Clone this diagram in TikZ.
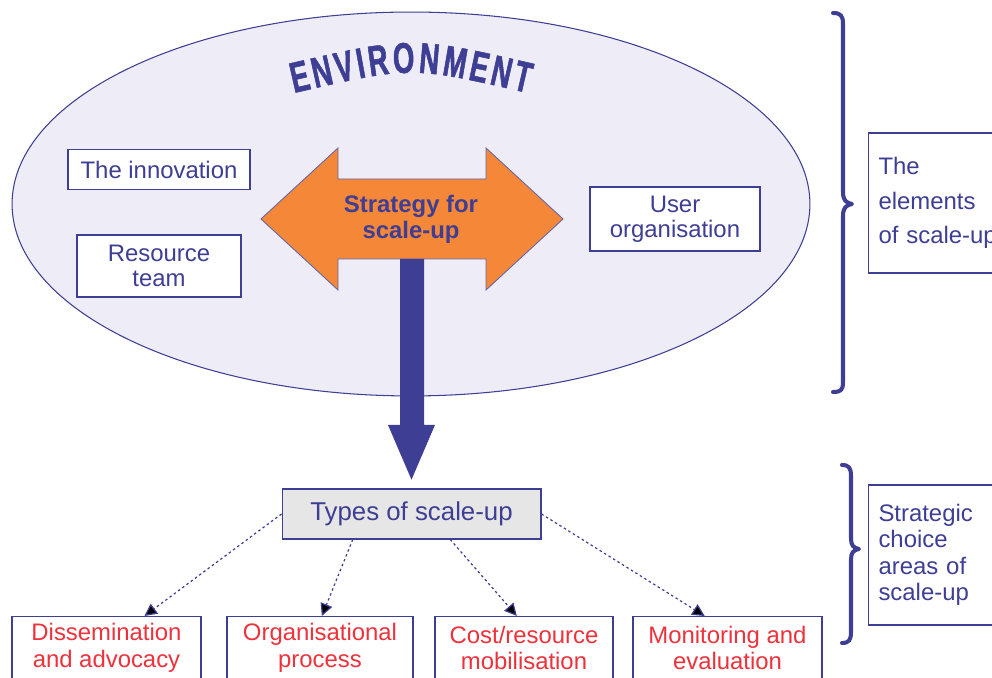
\documentclass[tikz,border=0pt]{standalone}
\usepackage{fontspec}
\setmainfont{Liberation Sans}
\newfontfamily\envfont[FakeStretch=0.64,FakeBold=1.2]{Liberation Sans Bold}
\usetikzlibrary{arrows.meta,calc,decorations.text}

\definecolor{dblue}{RGB}{62,62,148}
\definecolor{lav}{RGB}{237,236,247}
\definecolor{sorange}{RGB}{244,135,56}
\definecolor{dred}{RGB}{237,50,60}
\definecolor{lgray}{RGB}{230,230,230}

\newcommand\lblfont{\fontsize{13.6}{14.2}\selectfont}
\newcommand\redfont{\fontsize{13.6}{15.3}\selectfont}

\begin{document}
\begin{tikzpicture}[x=0.02cm,y=-0.02cm,
  box/.style={draw=dblue, line width=0.6pt, fill=white, inner sep=0pt,
    align=center, text=dblue, font=\lblfont},
  redbox/.style={box, text=dred, font=\redfont, minimum height=1.26cm},
  sidebox/.style={draw=dblue, line width=0.6pt, fill=white, anchor=west,
    inner xsep=0.2cm, inner ysep=0pt, minimum height=2.8cm, text width=3cm,
    align=left, text=dblue},
  brace/.style={draw=dblue, line width=2.3pt, line cap=round, line join=round},
  dotarrow/.style={draw=dblue, line width=0.7pt, dash pattern=on 1.4pt off 1.6pt,
    -{Triangle[length=7pt,width=7pt]}}
]
\path[use as bounding box] (0,0) rectangle (992,678);
\clip (0,0) rectangle (992,678);

% environment ellipse
\draw[fill=lav, draw=dblue, line width=0.6pt] (411,204) ellipse [x radius=7.98cm, y radius=3.84cm];

% curved heading
\path[decorate, decoration={text along path, text color=dblue,
    text={|\envfont\fontsize{24.5}{24.5}\selectfont|ENVIRONMENT},
    text align=fit to path}]
  (294,93) .. controls (411,66) .. (528,93);

% element boxes
\node[box, minimum width=3.64cm, minimum height=0.8cm] (innov) at (159,169.5) {The innovation};
\node[box, minimum width=3.28cm, minimum height=1.24cm] (team) at (159,266) {Resource\\team};
\node[box, minimum width=3.4cm, minimum height=1.28cm] (user) at (675,219) {User\\organisation};

% strategy double arrow
\path[draw=dblue!80, line width=0.5pt, fill=sorange]
  (261,219) -- (338,148) -- (338,179) -- (486,179) -- (486,148) -- (563,219)
  -- (486,290) -- (486,259) -- (338,259) -- (338,290) -- cycle;
\node[text=dblue, align=center, font=\bfseries\fontsize{13.6}{14.7}\selectfont]
  (strat) at (411,219) {Strategy for\\scale-up};

% types of scale-up
\node[box, fill=lgray, font=\fontsize{14.7}{16}\selectfont,
  minimum width=5.18cm, minimum height=1cm] (types) at (411.5,514) {Types of scale-up};

% thick arrow from the strategy down to the types
\fill[dblue] (400,259) -- (424,259) -- (424,425) -- (435,425)
  -- ([yshift=5pt]types.north) -- (388,425) -- (400,425) -- cycle;

% strategic choice areas
\node[redbox, minimum width=3.78cm] (d1) at (106.5,648) {Dissemination\\and advocacy};
\node[redbox, minimum width=3.72cm] (d2) at (320,648) {Organisational\\process};
\node[redbox, minimum width=3.56cm] (d3) at (524,648) {Cost/resource\\mobilisation};
\node[redbox, minimum width=3.78cm] (d4) at (727.5,648) {Monitoring and\\evaluation};

\draw[dotarrow] (types.west) -- ($(d1.north west)!0.70!(d1.north east)$);
\draw[dotarrow] ($(types.south west)!0.274!(types.south east)$) -- ($(d2.north west)!0.51!(d2.north east)$);
\draw[dotarrow] ($(types.south west)!0.649!(types.south east)$) -- ($(d3.north west)!0.46!(d3.north east)$);
\draw[dotarrow] (types.east) -- ($(d4.north west)!0.38!(d4.north east)$);

% braces
\draw[brace] (833,13) .. controls (841,13) and (843,16) .. (843,24) -- (843,192)
  .. controls (843,200) and (846,203) .. (852,204)
  .. controls (846,205) and (843,208) .. (843,216) -- (843,382)
  .. controls (843,390) and (841,392) .. (833,392);
\draw[brace] (842,465) .. controls (849,465) and (851,468) .. (851,476) -- (851,538)
  .. controls (851,545) and (853,548) .. (859,549)
  .. controls (853,550) and (851,553) .. (851,560) -- (851,632)
  .. controls (851,640) and (849,643) .. (842,643);

% side labels
\node[sidebox, font=\fontsize{13.6}{19.8}\selectfont] (elem) at (868,203)
  {The\\elements\\of scale-up};
\node[sidebox, font=\fontsize{13.6}{15}\selectfont] (areas) at (868,555)
  {Strategic\\choice\\areas of\\scale-up};
\end{tikzpicture}
\end{document}
